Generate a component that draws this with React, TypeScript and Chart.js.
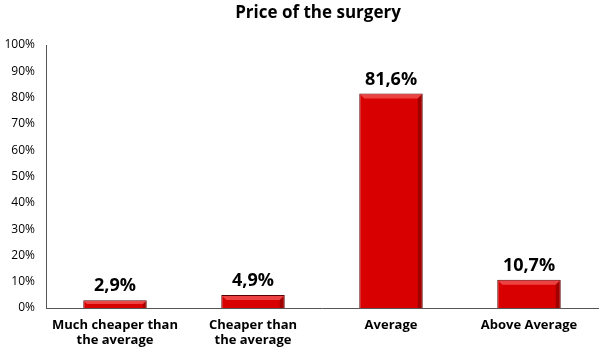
import React, { useEffect, useRef } from "react";
import { Chart, registerables } from "chart.js";

Chart.register(...registerables);

const categories: string[][] = [
  ["Much cheaper than", "the average"],
  ["Cheaper than", "the average"],
  ["Average"],
  ["Above Average"],
];
const values: number[] = [2.9, 4.9, 81.6, 10.7];
const valueLabels: string[] = ["2,9%", "4,9%", "81,6%", "10,7%"];
const titleText = "Price of the surgery";

const FONT = "'Open Sans', 'DejaVu Sans', sans-serif";

const overlayPlugin = {
  id: "overlay",
  afterDatasetsDraw(chart: any) {
    const ctx = chart.ctx;
    const meta = chart.getDatasetMeta(0);
    ctx.save();
    meta.data.forEach((bar: any) => {
      const left = bar.x - bar.width / 2;
      const right = bar.x + bar.width / 2;
      const top = bar.y;
      const bottom = bar.base;
      const h = bottom - top;
      const bev = Math.min(4, h / 3);
      ctx.fillStyle = "rgba(255,120,120,0.55)";
      ctx.beginPath();
      ctx.moveTo(left + 1, top + 1);
      ctx.lineTo(right - 1, top + 1);
      ctx.lineTo(right - 1 - bev, top + 1 + bev);
      ctx.lineTo(left + 1 + bev, top + 1 + bev);
      ctx.closePath();
      ctx.fill();
      ctx.fillStyle = "rgba(90,0,0,0.45)";
      ctx.beginPath();
      ctx.moveTo(right - 1, top + 1);
      ctx.lineTo(right - 1, bottom);
      ctx.lineTo(right - 1 - bev, bottom);
      ctx.lineTo(right - 1 - bev, top + 1 + bev);
      ctx.closePath();
      ctx.fill();
    });
    ctx.fillStyle = "#000";
    ctx.textAlign = "center";
    ctx.textBaseline = "bottom";
    ctx.font = `bold 18px ${FONT}`;
    meta.data.forEach((bar: any, i: number) => {
      ctx.fillText(valueLabels[i], bar.x, bar.y - 5);
    });
    ctx.font = `bold 17px ${FONT}`;
    ctx.textBaseline = "middle";
    ctx.fillText(titleText, 318, 13);
    ctx.restore();
  },
};

export default function App() {
  const ref = useRef<HTMLCanvasElement | null>(null);
  useEffect(() => {
    if (!ref.current) return;
    const chart = new Chart(ref.current, {
      type: "bar",
      data: {
        labels: categories,
        datasets: [
          {
            data: values,
            backgroundColor: (c: any) => {
              const el = c.element;
              const chartObj = c.chart;
              if (!el || !chartObj.chartArea) return "#d80000";
              const x0 = el.x - el.width / 2;
              const x1 = el.x + el.width / 2;
              if (!isFinite(x0) || !isFinite(x1) || x1 <= x0) return "#d80000";
              const g = chartObj.ctx.createLinearGradient(x0, 0, x1, 0);
              g.addColorStop(0, "#b00000");
              g.addColorStop(0.1, "#dc0000");
              g.addColorStop(0.9, "#d80000");
              g.addColorStop(1, "#900000");
              return g;
            },
            borderColor: "#5a0000",
            borderWidth: 1,
            barPercentage: 0.46,
            categoryPercentage: 1,
          },
        ],
      },
      options: {
        responsive: false,
        animation: false,
        layout: { padding: { top: 45, right: 2, left: 0, bottom: 0 } },
        plugins: {
          legend: { display: false },
          title: { display: false },
          tooltip: { enabled: false },
        },
        scales: {
          x: {
            grid: { display: false, drawTicks: false },
            border: { display: true, color: "#555", width: 1 },
            ticks: {
              color: "#000",
              font: { family: FONT, size: 13, weight: "bold", lineHeight: 1.2 },
              padding: 9,
              maxRotation: 0,
              autoSkip: false,
            },
            afterFit: (s: any) => {
              s.height = 43;
            },
          },
          y: {
            min: 0,
            max: 100,
            grid: { display: false, drawTicks: false },
            border: { display: true, color: "#555", width: 1 },
            ticks: {
              stepSize: 10,
              color: "#000",
              font: { family: FONT, size: 12 },
              padding: 11,
              callback: (v: any) => `${v}%`,
            },
            afterFit: (s: any) => {
              s.width = 46;
            },
          },
        },
      },
      plugins: [overlayPlugin],
    });
    return () => chart.destroy();
  }, []);
  return (
    <div style={{ position: "fixed", left: 0, top: 0, width: 600, height: 351, background: "#fff" }}>
      <canvas ref={ref} width={600} height={351} style={{ width: 600, height: 351 }} />
    </div>
  );
}
